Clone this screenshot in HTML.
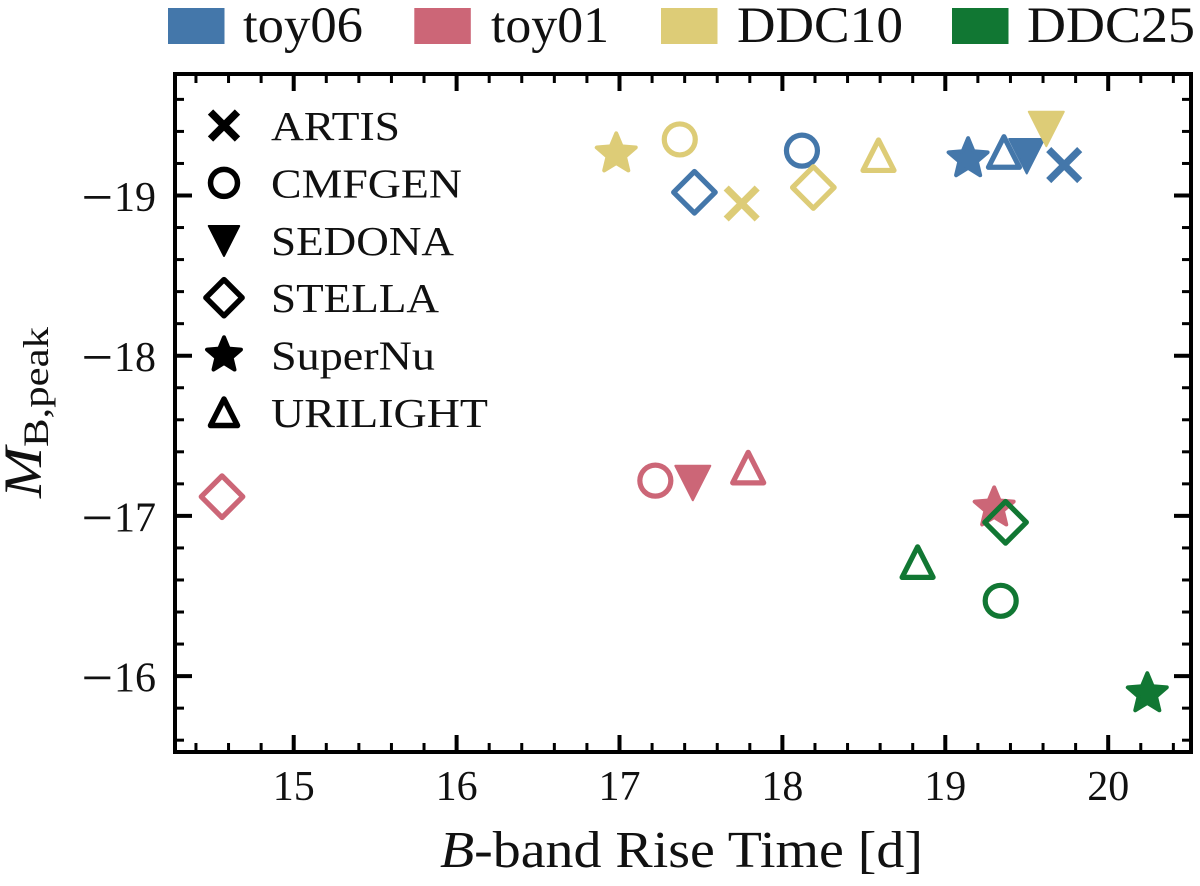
<!DOCTYPE html>
<html lang="en">
<head>
<meta charset="utf-8">
<title>B-band rise time vs peak magnitude</title>
<style>
html,body{margin:0;padding:0;background:#fff;}
svg{display:block;}
text{font-family:"Liberation Serif",serif;fill:#111;}
</style>
</head>
<body>
<svg id="chart" width="1200" height="886" viewBox="0 0 1200 886" xmlns="http://www.w3.org/2000/svg">
  <rect width="1200" height="886" fill="#fff"/>
  <g id="series"></g>
  <g id="axes"></g>
  <g>
    <g>
      <rect x="168" y="8" width="56.5" height="36" fill="#4477AA"/>
      <text x="243" y="42" font-size="51" textLength="120" lengthAdjust="spacingAndGlyphs">toy06</text>
    </g>
    <g>
      <rect x="414.3" y="8" width="56.5" height="36" fill="#CC6677"/>
      <text x="491" y="42" font-size="51" textLength="118" lengthAdjust="spacingAndGlyphs">toy01</text>
    </g>
    <g>
      <rect x="661" y="8" width="56.5" height="36" fill="#DDCC77"/>
      <text x="737" y="42" font-size="51" textLength="166" lengthAdjust="spacingAndGlyphs">DDC10</text>
    </g>
    <g>
      <rect x="952" y="8" width="56.5" height="36" fill="#117733"/>
      <text x="1027" y="42" font-size="51" textLength="168" lengthAdjust="spacingAndGlyphs">DDC25</text>
    </g>
  </g>
  <g id="model-legend"></g>
  <text x="440" y="867" font-size="52" textLength="483" lengthAdjust="spacingAndGlyphs"><tspan font-style="italic">B</tspan>-band Rise Time [d]</text>
  <g>
    <text transform="translate(41,498) rotate(-90)" font-size="54" font-style="italic" textLength="51" lengthAdjust="spacingAndGlyphs">M</text>
    <text transform="translate(48,447) rotate(-90)" font-size="36" textLength="120" lengthAdjust="spacingAndGlyphs">B,peak</text>
  </g>
</svg>
<script>
const models = ['ARTIS', 'CMFGEN', 'SEDONA', 'STELLA', 'SuperNu', 'URILIGHT'];
const seriesNames = ['toy06', 'toy01', 'DDC10', 'DDC25'];
const seriesColors = ['#4477AA', '#CC6677', '#DDCC77', '#117733'];
const toy06Rise = [19.73, 18.12, 19.50, 17.46, 19.14, 19.36];
const toy06Peak = [-19.19, -19.28, -19.25, -19.02, -19.23, -19.27];
const toy01Rise = [null, 17.22, 17.45, 14.56, 19.30, 17.79];
const toy01Peak = [null, -17.22, -17.21, -17.12, -17.05, -17.30];
const ddc10Rise = [17.75, 17.37, 19.62, 18.19, 16.98, 18.59];
const ddc10Peak = [-18.95, -19.35, -19.42, -19.05, -19.26, -19.25];
const ddc25Rise = [null, 19.34, null, 19.37, 20.24, 18.83];
const ddc25Peak = [null, -16.47, null, -16.96, -15.89, -16.71];
const xMajorTicks = [15, 16, 17, 18, 19, 20];
const yMajorTicks = [-19, -18, -17, -16];

const NS = 'http://www.w3.org/2000/svg';
const left = 175, right = 1191, top_ = 74, bottom = 752;
const xMin = 14.27, xMax = 20.51, yMin = -15.53, yMax = -19.76;
const legendLabelWidths = { ARTIS: 129, CMFGEN: 191, SEDONA: 183, STELLA: 168, SuperNu: 164, URILIGHT: 217 };
function xScale(v) { return 293.7 + (v - 15) * 162.9; }
function yScale(v) { return 195.5 + (v + 19) * 160.2; }

function make(tag, attrs, parent) {
  const el = document.createElementNS(NS, tag);
  for (const k in attrs) el.setAttribute(k, attrs[k]);
  parent.appendChild(el);
  return el;
}

function drawMarker(model, cx, cy, color, parent, s, sw) {
  const g = make('g', { transform: 'translate(' + cx + ',' + cy + ')' }, parent);
  const hollow = { fill: 'none', stroke: color, 'stroke-width': sw, 'stroke-linejoin': 'round' };
  if (model === 'ARTIS') {
    const e = 15.5 * s;
    make('path', { d: 'M' + (-e) + ',' + (-e) + 'L' + e + ',' + e + 'M' + (-e) + ',' + e + 'L' + e + ',' + (-e), fill: 'none', stroke: color, 'stroke-width': sw + 2 }, g);
  } else if (model === 'CMFGEN') {
    make('circle', Object.assign({ r: 15.5 * s }, hollow), g);
  } else if (model === 'SEDONA') {
    make('path', { d: 'M' + (-17.5 * s) + ',' + (-16.5 * s) + 'L' + (17.5 * s) + ',' + (-16.5 * s) + 'L0,' + (18 * s) + 'Z', fill: color, stroke: color, 'stroke-width': 2, 'stroke-linejoin': 'round' }, g);
  } else if (model === 'STELLA') {
    const d = 20.8 * s;
    make('path', Object.assign({ d: 'M0,' + (-d) + 'L' + d + ',0L0,' + d + 'L' + (-d) + ',0Z' }, hollow), g);
  } else if (model === 'SuperNu') {
    let d = '';
    for (let i = 0; i < 10; i++) {
      const r = (i % 2 ? 9.2 : 20.5) * s;
      const a = -Math.PI / 2 + i * Math.PI / 5;
      d += (i ? 'L' : 'M') + (r * Math.cos(a)).toFixed(2) + ',' + (r * Math.sin(a)).toFixed(2);
    }
    make('path', { d: d + 'Z', fill: color, stroke: color, 'stroke-width': 4, 'stroke-linejoin': 'round' }, g);
  } else {
    make('path', Object.assign({ d: 'M0,' + (-15.5 * s) + 'L' + (15.5 * s) + ',' + (15 * s) + 'L' + (-15.5 * s) + ',' + (15 * s) + 'Z' }, hollow), g);
  }
  return g;
}

const seriesRise = [toy06Rise, toy01Rise, ddc10Rise, ddc25Rise];
const seriesPeak = [toy06Peak, toy01Peak, ddc10Peak, ddc25Peak];
const seriesLayer = document.getElementById('series');
seriesNames.forEach(function (name, s) {
  const group = make('g', {}, seriesLayer);
  
  
  models.forEach(function (model, m) {
    if (seriesRise[s][m] === null) return;
    const mark = drawMarker(model, xScale(seriesRise[s][m]), yScale(seriesPeak[s][m]), seriesColors[s], group, 1, 5.2);
    
    
  });
});

const axes = document.getElementById('axes');
function tick(x1, y1, x2, y2, w, label) {
  const t = make('line', { x1: x1, y1: y1, x2: x2, y2: y2, stroke: '#000', 'stroke-width': w }, axes);
  
  
}
for (let i = Math.ceil(xMin * 5); i <= Math.floor(xMax * 5); i++) {
  const v = i / 5;
  const major = i % 5 === 0;
  const len = major ? 17 : 9, w = major ? 4 : 3, x = xScale(v);
  tick(x, bottom, x, bottom - len, w, major ? 'x-major-tick' : 'x-minor-tick');
  tick(x, top_, x, top_ + len, w, major ? 'x-major-tick-top' : 'x-minor-tick-top');
}
for (let i = Math.ceil(yMax * 5); i <= Math.floor(yMin * 5); i++) {
  const v = i / 5;
  const major = i % 5 === 0;
  const len = major ? 17 : 9, w = major ? 4 : 3, y = yScale(v);
  tick(left, y, left + len, y, w, major ? 'y-major-tick' : 'y-minor-tick');
  tick(right, y, right - len, y, w, major ? 'y-major-tick-right' : 'y-minor-tick-right');
}
const frame = make('rect', { x: left, y: top_, width: right - left, height: bottom - top_, fill: 'none', stroke: '#000', 'stroke-width': 4 }, axes);



xMajorTicks.forEach(function (v) {
  const t = make('text', { x: xScale(v), y: 800, 'font-size': 42, 'text-anchor': 'middle' }, axes);
  t.textContent = String(v);
  
  
});
yMajorTicks.forEach(function (v) {
  const t = make('text', { x: 156, y: yScale(v) + 15.5, 'font-size': 42, 'text-anchor': 'end' }, axes);
  const minus = make('tspan', { 'font-size': 56, dy: 5 }, t);
  minus.textContent = '\u2212';
  const digits = make('tspan', { dx: 1, dy: -5 }, t);
  digits.textContent = String(Math.abs(v));
  
  
});

const modelLegend = document.getElementById('model-legend');
models.forEach(function (model, m) {
  const rowY = 125.5 + m * 57.4;
  const row = make('g', {}, modelLegend);
  
  
  const mk = drawMarker(model, 224, rowY, '#000', row, 0.87, 5.5);
  
  
  const label = make('text', { x: 271, y: 140 + m * 57.4, 'font-size': 41, textLength: legendLabelWidths[model], lengthAdjust: 'spacingAndGlyphs' }, row);
  label.textContent = model;
  
  
});
</script>
</body>
</html>
